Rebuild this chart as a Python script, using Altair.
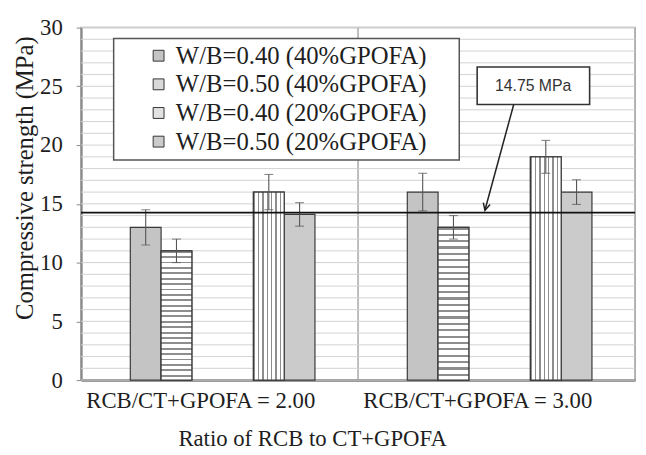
import altair as alt
import pandas as pd

# ---- data ----
groups = ["RCB/CT+GPOFA = 2.00", "RCB/CT+GPOFA = 3.00"]
series = ["W/B=0.40 (40%GPOFA)", "W/B=0.50 (40%GPOFA)",
          "W/B=0.40 (20%GPOFA)", "W/B=0.50 (20%GPOFA)"]
values_g1 = [13.0, 11.0, 16.0, 14.1]
values_g2 = [16.0, 13.0, 19.0, 16.0]
err_g1 = [1.5, 1.0, 1.5, 1.0]
err_g2 = [1.6, 1.0, 1.4, 1.05]
ref_value = 14.25
ref_label = "14.75 MPa"
grid_values = list(range(0, 31))
y_ticks = [0, 5, 10, 15, 20, 25, 30]

rows = []
for g, vals, errs in [(groups[0], values_g1, err_g1), (groups[1], values_g2, err_g2)]:
    for s, v, e in zip(series, vals, errs):
        rows.append({"group": g, "series": s, "value": v, "lo": v - e, "hi": v + e})
df = pd.DataFrame(rows)

offset_domain = ["_p1", series[0], series[1], "_g1", "_g2", series[2], series[3], "_p2"]
serif = "'Liberation Serif', 'Times New Roman', Tinos, 'DejaVu Serif', serif"
W, H = 561, 357

x_scale = alt.Scale(domain=groups, paddingInner=0, paddingOuter=0)
x_enc = alt.X("group:N", scale=x_scale,
              axis=alt.Axis(title="Ratio of RCB to CT+GPOFA", labelAngle=0, ticks=False, tickSize=0,
                            bandPosition=0, labelOffset=-19, labelLimit=0, grid=True, gridColor="#a8a8a8",
                            gridWidth=1.5, domainColor="#7a7a7a", domainWidth=2.5,
                            labelFont=serif, labelFontSize=23, labelColor="#1e1e1e",
                            labelBaseline="alphabetic", labelPadding=28,
                            titleFont=serif, titleFontSize=23, titleFontWeight="normal",
                            titleColor="#1e1e1e", titleX=234, titleY=66,
                            titleBaseline="alphabetic"))
xo_enc = alt.XOffset("series:N", scale=alt.Scale(domain=offset_domain, paddingInner=0,
                                                 paddingOuter=0.5, align=0.6))
y_scale = alt.Scale(domain=[0, 30], nice=False, zero=True)
y_axis = alt.Axis(values=y_ticks, grid=False, tickSize=5, tickColor="#888", domainColor="#888",
                  domainWidth=2, labelFont=serif, labelFontSize=23, labelColor="#1e1e1e",
                  labelPadding=14, title="Compressive strength (MPa)", titleFont=serif,
                  titleFontSize=25, titleFontWeight="normal", titleColor="#1e1e1e",
                  titleX=-57, titleY=152, titleBaseline="middle")

base = alt.Chart(df)

grid = alt.Chart(pd.DataFrame({"value": grid_values})).mark_rule(color="#d2d2d2", strokeWidth=1).encode(
    y=alt.Y("value:Q", scale=y_scale, axis=y_axis))

greys = ["#c4c4c4", "#d9d9d9", "#e2e2e2", "#cbcbcb"]
bars = base.mark_bar(stroke="#3a3a3a", strokeWidth=1.2).encode(
    x=x_enc, xOffset=xo_enc, y=alt.Y("value:Q", scale=y_scale),
    color=alt.Color("series:N", scale=alt.Scale(domain=series, range=greys),
                    legend=alt.Legend(title="\u00a0", titleOrient="right", titlePadding=28)))


def stripes(n, frac, dark, light, horizontal):
    stops = []
    for k in range(n):
        a, b, c = k / n, (k + frac) / n, (k + 1) / n
        stops += [{"offset": a, "color": dark}, {"offset": b, "color": dark},
                  {"offset": b, "color": light}, {"offset": c, "color": light}]
    g = {"gradient": "linear", "stops": stops}
    if horizontal:
        g.update({"x1": 0, "y1": 0, "x2": 0, "y2": 1})
    else:
        g.update({"x1": 0, "y1": 0, "x2": 1, "y2": 0})
    return g


hstripe = base.transform_filter(alt.datum.series == series[1]).mark_bar(
    fill=stripes(24, 0.35, "#8e8e8e", "#ffffff", True), stroke="#3a3a3a", strokeWidth=1.2).encode(
    x="group:N", xOffset="series:N", y="value:Q")
vstripe = base.transform_filter(alt.datum.series == series[2]).mark_bar(
    fill=stripes(7, 0.32, "#8e8e8e", "#ffffff", False), stroke="#3a3a3a", strokeWidth=1.2).encode(
    x="group:N", xOffset="series:N", y="value:Q")

err_rule = base.mark_rule(color="#555", strokeWidth=1.1).encode(
    x="group:N", xOffset="series:N", y="lo:Q", y2="hi:Q")
err_lo = base.mark_tick(color="#555", size=9, thickness=1.1).encode(x="group:N", xOffset="series:N", y="lo:Q")
err_hi = base.mark_tick(color="#555", size=9, thickness=1.1).encode(x="group:N", xOffset="series:N", y="hi:Q")

href = alt.Chart(pd.DataFrame({"value": [ref_value]})).mark_rule(color="#111", strokeWidth=1.6).encode(
    y=alt.Y("value:Q", scale=y_scale))

main = alt.layer(grid, bars, hstripe, vstripe, err_rule, err_lo, err_hi, href)

# ---- annotation: box with label and arrow pointing to the reference line ----
ax = alt.Scale(domain=[0, 1], nice=False, zero=False)
box_df = pd.DataFrame({"x": [0.715], "x2": [0.918], "value": [26.64], "y2": [23.45],
                       "tx": [0.816], "ty": [25.05], "t": [ref_label]})
arrow_df = pd.DataFrame({"x": [0.781], "x2": [0.729], "value": [23.45], "y2": [ref_value + 0.2]})

box = alt.Chart(box_df).mark_rect(fill="white", stroke="#333", strokeWidth=1.6).encode(
    x=alt.X("x:Q", scale=ax, axis=None), x2="x2:Q",
    y=alt.Y("value:Q", scale=y_scale), y2="y2:Q")
box_text = alt.Chart(box_df).mark_text(font="Liberation Sans", fontSize=16, color="#333",
                                       baseline="middle", align="center").encode(
    x=alt.X("tx:Q", scale=ax, axis=None), y=alt.Y("ty:Q", scale=y_scale), text="t:N")
arrow_line = alt.Chart(arrow_df).mark_rule(color="#222", strokeWidth=1.5).encode(
    x=alt.X("x:Q", scale=ax, axis=None), x2="x2:Q",
    y=alt.Y("value:Q", scale=y_scale), y2="y2:Q")
arrow_head = alt.Chart(arrow_df).mark_point(shape="M -0.5 -1 L 0 0 L 0.5 -1", size=200, filled=False,
                                            stroke="#222", strokeWidth=1.5, angle=15, opacity=1).encode(
    x=alt.X("x2:Q", scale=ax, axis=None), y=alt.Y("y2:Q", scale=y_scale))

annot = alt.layer(box, box_text, arrow_line, arrow_head)

chart = alt.layer(main, annot).resolve_scale(x="independent").properties(
    width=W, height=H,
    autosize=alt.AutoSizeParams(type="none"),
    padding={"left": 74, "top": 17, "right": 3, "bottom": 70},
).configure_view(stroke="#9a9a9a", strokeWidth=1.5).configure_legend(
    orient="none", legendX=33, legendY=11, fillColor="white", strokeColor="#555", strokeWidth=1.5,
    padding=5, rowPadding=3, symbolType="square", symbolSize=121, symbolStrokeColor="#333",
    symbolStrokeWidth=1, symbolOffset=28, labelOffset=5, labelFont=serif, labelFontSize=25,
    labelColor="#1e1e1e", labelLimit=0, symbolOpacity=1
)

chart.save("out.html", embed_options={"renderer": "svg", "actions": False})
